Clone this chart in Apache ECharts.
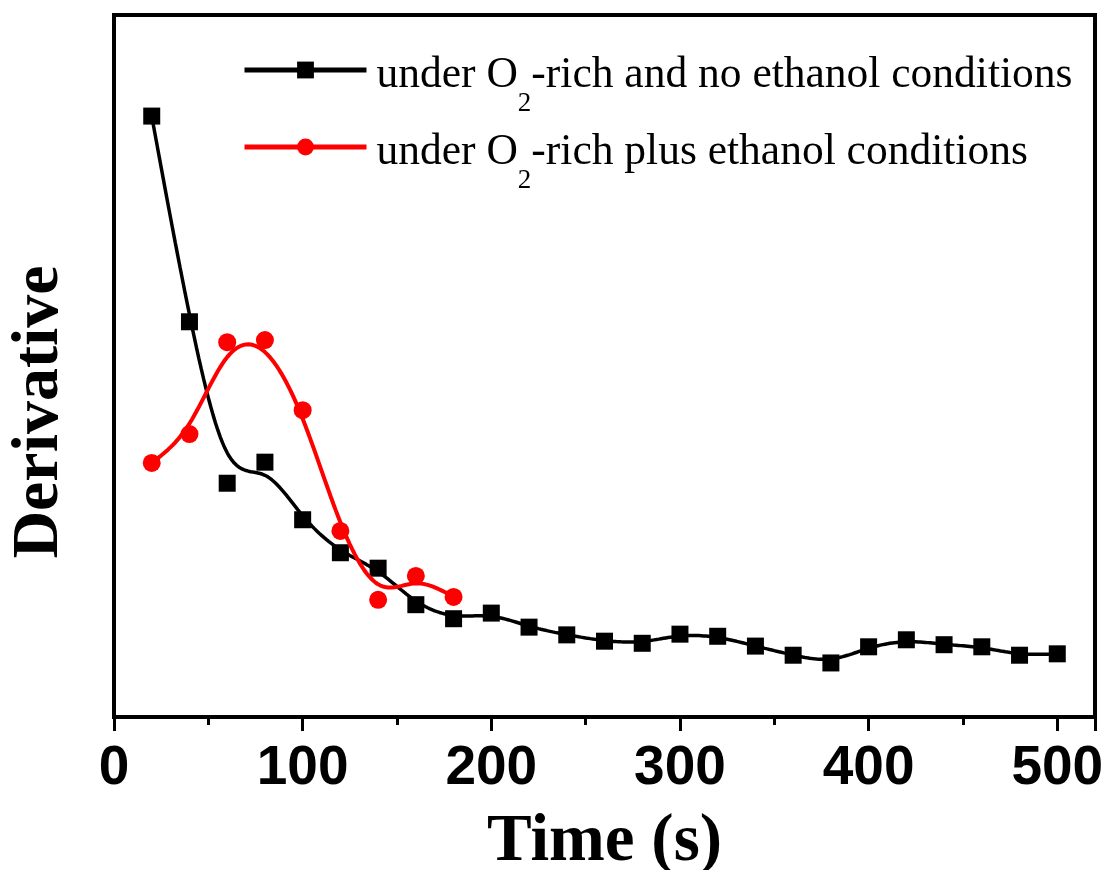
<!DOCTYPE html>
<html>
<head>
<meta charset="utf-8">
<script src="https://cdn.jsdelivr.net/npm/echarts@6/dist/echarts.min.js"></script>
<style>
  html, body { margin: 0; padding: 0; background: #fff; }
  #chart { width: 1104px; height: 870px; }
</style>
</head>
<body>
<div id="chart"></div>
<script>
// Time points (s) and derivative values (arbitrary units)
const timeNoEthanol = [20, 40, 60, 80, 100, 120, 140, 160, 180, 200, 220, 240, 260, 280, 300, 320, 340, 360, 380, 400, 420, 440, 460, 480, 500];
const derivNoEthanol = [85.6, 56.3, 33.3, 36.3, 28.1, 23.4, 21.2, 16.0, 14.0, 14.8, 12.8, 11.7, 10.8, 10.5, 11.8, 11.5, 10.1, 8.8, 7.7, 10.0, 11.0, 10.3, 10.0, 8.8, 9.0];

const timePlusEthanol = [20, 40, 60, 80, 100, 120, 140, 160, 180];
const derivPlusEthanol = [36.2, 40.3, 53.4, 53.7, 43.7, 26.5, 16.7, 20.1, 17.1];

const seriesNames = [
  'under O2-rich and no ethanol conditions',
  'under O2-rich plus ethanol conditions'
];
const legendParts = {
  'under O2-rich and no ethanol conditions': ['under O', '2', '-rich and no ethanol conditions'],
  'under O2-rich plus ethanol conditions': ['under O', '2', '-rich plus ethanol conditions']
};

// Cubic B-spline connecting curve through the measured points (ends pinned to first/last point)
function bsplineCurve(xs, ys, steps) {
  const n = xs.length;
  const ctrl = (i) => {
    if (i < 0) return [2 * xs[0] - xs[1], 2 * ys[0] - ys[1]];
    if (i >= n) return [2 * xs[n - 1] - xs[n - 2], 2 * ys[n - 1] - ys[n - 2]];
    return [xs[i], ys[i]];
  };
  const out = [];
  for (let i = 0; i < n - 1; i++) {
    const p0 = ctrl(i - 1), p1 = ctrl(i), p2 = ctrl(i + 1), p3 = ctrl(i + 2);
    const last = (i === n - 2) ? steps : steps - 1;
    for (let s = 0; s <= last; s++) {
      const t = s / steps;
      const b0 = Math.pow(1 - t, 3) / 6;
      const b1 = (3 * t * t * t - 6 * t * t + 4) / 6;
      const b2 = (-3 * t * t * t + 3 * t * t + 3 * t + 1) / 6;
      const b3 = t * t * t / 6;
      out.push([
        b0 * p0[0] + b1 * p1[0] + b2 * p2[0] + b3 * p3[0],
        b0 * p0[1] + b1 * p1[1] + b2 * p2[1] + b3 * p3[1]
      ]);
    }
  }
  return out;
}

const pairs = (xs, ys) => xs.map((x, i) => [x, ys[i]]);

const serif = '"Liberation Serif", "Times New Roman", Times, serif';
const sans = '"Liberation Sans", Arial, sans-serif';

const chart = echarts.init(document.getElementById('chart'), null, { renderer: 'canvas' });

chart.setOption({
  animation: false,
  backgroundColor: '#ffffff',
  grid: {
    left: 114, right: 9, top: 15, bottom: 153,
    outerBoundsMode: 'none',
    containLabel: false,
    show: true, borderColor: '#000', borderWidth: 4, backgroundColor: 'transparent'
  },
  xAxis: {
    type: 'value',
    min: 0, max: 520, interval: 100,
    name: 'Time (s)',
    nameLocation: 'middle',
    nameGap: 92,
    nameTextStyle: { fontFamily: serif, fontWeight: 'bold', fontSize: 67, color: '#000' },
    axisLine: { show: true, onZero: false, lineStyle: { color: '#000', width: 4 } },
    axisTick: { show: true, inside: false, length: 14, lineStyle: { color: '#000', width: 3 } },
    minorTick: { show: true, splitNumber: 2, length: 8, lineStyle: { color: '#000', width: 3 } },
    axisLabel: {
      margin: 24, showMaxLabel: false,
      fontFamily: sans, fontWeight: 'bold', fontSize: 55, color: '#000',
      formatter: (v) => (v % 100 === 0 ? String(v) : '')
    },
    splitLine: { show: false }
  },
  yAxis: {
    type: 'value',
    min: 0, max: 100,
    axisLine: { show: true, lineStyle: { color: '#000', width: 4 } },
    axisTick: { show: false },
    axisLabel: { show: false },
    splitLine: { show: false }
  },
  legend: {
    orient: 'vertical',
    left: 242, top: 23,
    padding: 0,
    itemWidth: 122, itemHeight: 21, itemGap: -17,
    selectedMode: false,
    data: seriesNames,
    lineStyle: { width: 5 },
    formatter: (name) => {
      const p = legendParts[name];
      return '{a|' + p[0] + '}{s|' + p[1] + '}{b|' + p[2] + '}';
    },
    textStyle: {
      color: '#000',
      fontFamily: serif,
      fontSize: 43.5,
      rich: {
        a: { fontFamily: serif, fontSize: 43.5, color: '#000', lineHeight: 56, padding: [12, 0, 0, 5] },
        b: { fontFamily: serif, fontSize: 43.5, color: '#000', lineHeight: 56, padding: [12, 0, 0, 0] },
        s: { fontFamily: serif, fontSize: 27, color: '#000', lineHeight: 1, padding: [67, 0, 0, 0] }
      }
    }
  },
  graphic: [{
    type: 'text',
    x: 40, y: 412,
    rotation: Math.PI / 2,
    style: {
      text: 'Derivative',
      fontFamily: serif, fontWeight: 'bold', fontSize: 66,
      fill: '#000', textAlign: 'center', textVerticalAlign: 'middle'
    }
  }],
  series: [
    {
      name: seriesNames[0],
      type: 'line',
      data: bsplineCurve(timeNoEthanol, derivNoEthanol, 16),
      showSymbol: false,
      symbol: 'rect',
      color: '#000',
      lineStyle: { color: '#000', width: 3.5 },
      z: 2
    },
    {
      name: 'no-ethanol points',
      type: 'scatter',
      data: pairs(timeNoEthanol, derivNoEthanol),
      symbol: 'rect',
      symbolSize: 17,
      itemStyle: { color: '#000', opacity: 1 },
      z: 3
    },
    {
      name: seriesNames[1],
      type: 'line',
      data: bsplineCurve(timePlusEthanol, derivPlusEthanol, 16),
      showSymbol: false,
      symbol: 'circle',
      color: '#ff0000',
      lineStyle: { color: '#ff0000', width: 4 },
      z: 4
    },
    {
      name: 'plus-ethanol points',
      type: 'scatter',
      data: pairs(timePlusEthanol, derivPlusEthanol),
      symbol: 'circle',
      symbolSize: 18,
      itemStyle: { color: '#ff0000', opacity: 1 },
      z: 5
    }
  ]
});
</script>
</body>
</html>
